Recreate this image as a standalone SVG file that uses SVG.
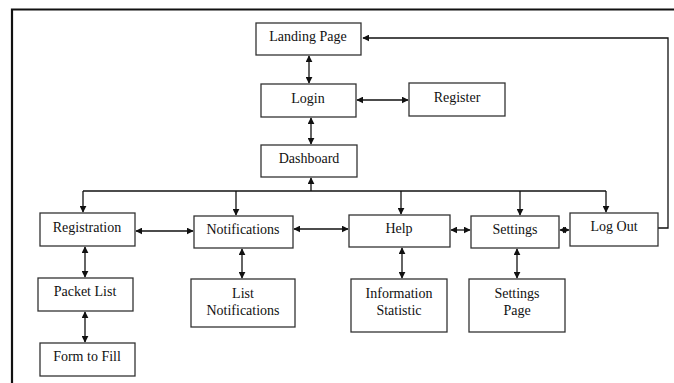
<svg xmlns="http://www.w3.org/2000/svg" width="674" height="383" viewBox="0 0 674 383">
<style>
.box{fill:#fff;stroke:#333;stroke-width:1.3}
.t{font-family:"Liberation Serif","Times New Roman",serif;font-size:14px;fill:#111;text-anchor:middle}
.c{fill:none;stroke:#111;stroke-width:1.3}
.frame{fill:none;stroke:#111;stroke-width:2.2}
</style>
<defs>
<marker id="ah" viewBox="0 0 10 10" refX="9" refY="5" markerWidth="7" markerHeight="7" markerUnits="userSpaceOnUse" orient="auto-start-reverse">
<path d="M0,0 L10,5 L0,10 z" fill="#111"/>
</marker>
</defs>
<rect width="674" height="383" fill="#fff"/>
<path class="frame" d="M12,383 V9.5 H674"/>

<g id="connectors">
<line class="c" x1="309" y1="56" x2="309" y2="83" marker-start="url(#ah)" marker-end="url(#ah)"/>
<line class="c" x1="357" y1="100" x2="408" y2="100" marker-start="url(#ah)" marker-end="url(#ah)"/>
<line class="c" x1="311" y1="118" x2="311" y2="144" marker-start="url(#ah)" marker-end="url(#ah)"/>
<line class="c" x1="311" y1="191" x2="311" y2="178" marker-end="url(#ah)"/>
<path class="c" d="M83,191 H606"/>
<line class="c" x1="83" y1="191" x2="83" y2="212" marker-end="url(#ah)"/>
<line class="c" x1="236" y1="191" x2="236" y2="215" marker-end="url(#ah)"/>
<line class="c" x1="401" y1="191" x2="401" y2="214" marker-end="url(#ah)"/>
<line class="c" x1="520" y1="191" x2="520" y2="215" marker-end="url(#ah)"/>
<line class="c" x1="606" y1="191" x2="606" y2="212" marker-end="url(#ah)"/>
<line class="c" x1="136" y1="231" x2="193" y2="231" marker-start="url(#ah)" marker-end="url(#ah)"/>
<line class="c" x1="294" y1="229" x2="348" y2="229" marker-start="url(#ah)" marker-end="url(#ah)"/>
<line class="c" x1="451" y1="230" x2="470" y2="230" marker-start="url(#ah)" marker-end="url(#ah)"/>
<line class="c" x1="560" y1="230" x2="569" y2="230" marker-start="url(#ah)" marker-end="url(#ah)"/>
<path class="c" d="M658,228 H668 V38 H363" marker-end="url(#ah)"/>
<line class="c" x1="85" y1="247" x2="85" y2="277" marker-start="url(#ah)" marker-end="url(#ah)"/>
<line class="c" x1="85" y1="312" x2="85" y2="342" marker-start="url(#ah)" marker-end="url(#ah)"/>
<line class="c" x1="242" y1="249" x2="242" y2="278" marker-start="url(#ah)" marker-end="url(#ah)"/>
<line class="c" x1="402" y1="248" x2="402" y2="278" marker-start="url(#ah)" marker-end="url(#ah)"/>
<line class="c" x1="517" y1="249" x2="517" y2="278" marker-start="url(#ah)" marker-end="url(#ah)"/>
</g>

<g id="landing"><rect class="box" x="256" y="23" width="105" height="32"/><text class="t" x="308" y="41">Landing Page</text></g>
<g id="login"><rect class="box" x="261" y="84" width="95" height="33"/><text class="t" x="308" y="103">Login</text></g>
<g id="register"><rect class="box" x="409" y="83" width="96" height="33"/><text class="t" x="457" y="102">Register</text></g>
<g id="dashboard"><rect class="box" x="261" y="145" width="96" height="32"/><text class="t" x="309" y="163">Dashboard</text></g>
<g id="registration"><rect class="box" x="40" y="213" width="95" height="33"/><text class="t" x="87" y="232">Registration</text></g>
<g id="notifications"><rect class="box" x="194" y="216" width="99" height="32"/><text class="t" x="243" y="234">Notifications</text></g>
<g id="help"><rect class="box" x="349" y="215" width="101" height="32"/><text class="t" x="399" y="233">Help</text></g>
<g id="settings"><rect class="box" x="471" y="216" width="88" height="32"/><text class="t" x="515" y="234">Settings</text></g>
<g id="logout"><rect class="box" x="570" y="213" width="88" height="33"/><text class="t" x="614" y="231">Log Out</text></g>
<g id="packetlist"><rect class="box" x="38" y="278" width="95" height="33"/><text class="t" x="85" y="296">Packet List</text></g>
<g id="formtofill"><rect class="box" x="40" y="343" width="95" height="33"/><text class="t" x="87" y="361">Form to Fill</text></g>
<g id="listnotifications"><rect class="box" x="191" y="279" width="104" height="48"/><text class="t" x="243" y="298">List</text><text class="t" x="243" y="315">Notifications</text></g>
<g id="infostat"><rect class="box" x="351" y="279" width="96" height="53"/><text class="t" x="399" y="298">Information</text><text class="t" x="399" y="315">Statistic</text></g>
<g id="settingspage"><rect class="box" x="469" y="279" width="96" height="53"/><text class="t" x="517" y="298">Settings</text><text class="t" x="517" y="315">Page</text></g>
</svg>
